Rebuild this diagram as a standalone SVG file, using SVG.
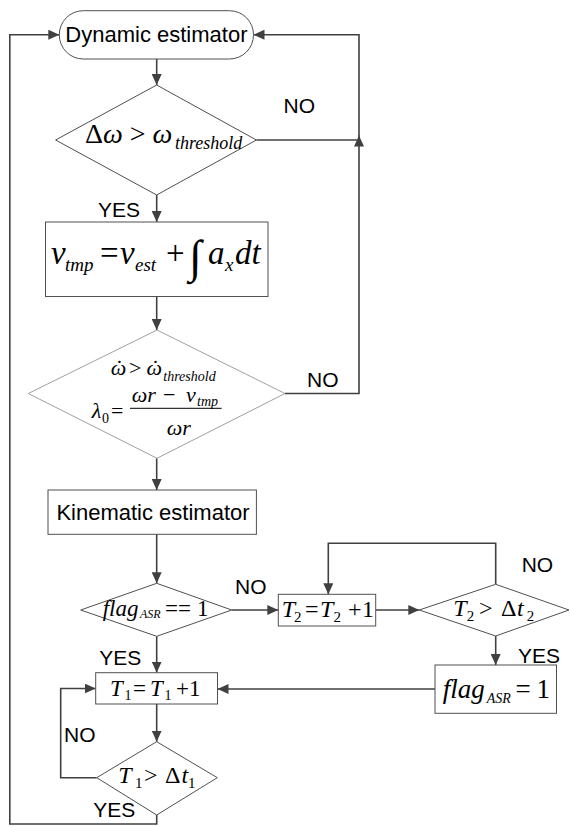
<svg xmlns="http://www.w3.org/2000/svg" width="570" height="826" viewBox="0 0 570 826">
<defs>
<marker id="arr" markerUnits="userSpaceOnUse" markerWidth="12" markerHeight="10" refX="11" refY="5" orient="auto">
<path d="M0,0 L11,5 L0,10 z" fill="#404040"/>
</marker>
</defs>
<style>
.box{fill:#fff;stroke:#505050;stroke-width:1}
.dia{fill:#fff;stroke:#505050;stroke-width:1}
.dial{fill:#fff;stroke:#a0a0a0;stroke-width:1}
.con{fill:none;stroke:#404040;stroke-width:1.6}
.lbl{font-family:"Liberation Sans",Arial,sans-serif;font-size:21px;fill:#000}
.nt{font-family:"Liberation Sans",Arial,sans-serif;font-size:22px;fill:#000;text-anchor:middle}
.m{font-family:"Liberation Serif","Times New Roman",serif;fill:#000}
.i{font-style:italic}
</style>
<rect width="570" height="826" fill="#fff"/>

<g id="connectors">
<path class="con" d="M156.7,59 V85" marker-end="url(#arr)"/>
<path class="con" d="M156.7,195 V222" marker-end="url(#arr)"/>
<path class="con" d="M156.7,296.5 V330" marker-end="url(#arr)"/>
<path class="con" d="M156.7,458.3 V490" marker-end="url(#arr)"/>
<path class="con" d="M156.7,534.3 V583.3" marker-end="url(#arr)"/>
<path class="con" d="M231.7,610 H278.3" marker-end="url(#arr)"/>
<path class="con" d="M375.7,610 H419.3" marker-end="url(#arr)"/>
<path class="con" d="M495.7,584.3 V543.3 H328.3 V594.3" marker-end="url(#arr)"/>
<path class="con" d="M495.7,636 V665" marker-end="url(#arr)"/>
<path class="con" d="M435,689 H217.5" marker-end="url(#arr)"/>
<path class="con" d="M156.7,636.3 V672.7" marker-end="url(#arr)"/>
<path class="con" d="M156.7,704 V741.7" marker-end="url(#arr)"/>
<path class="con" d="M96.7,777.7 H60.7 V688.5 H95.7" marker-end="url(#arr)"/>
<path class="con" d="M156.7,815 V824 H9.8 V34.7 H59.3" marker-end="url(#arr)"/>
<path class="con" d="M256.4,140 H359"/>
<path class="con" d="M285,393.5 H359 V135.5" marker-end="url(#arr)"/>
<path class="con" d="M359,136 V34.7 H253.5" marker-end="url(#arr)"/>
</g>

<g id="dynamic">
<rect class="box" x="59.3" y="10.7" width="194.2" height="48.3" rx="24" ry="24"/>
<text class="nt" x="156.4" y="42">Dynamic estimator</text>
</g>

<g id="cond1">
<polygon class="dia" points="156.7,85 256.4,140 156.7,195 55.6,140"/>
<text class="m" font-size="28"><tspan x="85" y="142.5">Δ</tspan><tspan class="i">ω</tspan> &gt; <tspan class="i">ω</tspan><tspan class="i" font-size="18" x="175" y="149">threshold</tspan></text>
</g>

<g id="vtmp">
<rect class="box" x="45.5" y="222" width="222.5" height="74.5"/>
<text class="m" font-size="33"><tspan class="i" x="51" y="263.5">v</tspan><tspan class="i" font-size="19" x="65" y="271">tmp</tspan><tspan x="100" y="263.5">=</tspan><tspan class="i" x="120" y="263.5">v</tspan><tspan class="i" font-size="19" x="135" y="271">est</tspan><tspan x="166" y="263.5">+</tspan><tspan font-size="46" x="189" y="272">∫</tspan><tspan class="i" x="208" y="263.5">a</tspan><tspan class="i" font-size="19" x="225" y="271">x</tspan><tspan class="i" x="235" y="263.5">dt</tspan></text>
</g>

<g id="cond2">
<polygon class="dial" points="157,330 285,393.5 157,458.3 28.3,393.5"/>
<text class="m" font-size="22"><tspan class="i" x="110.7" y="375">ω</tspan><tspan x="129" y="375">&gt;</tspan><tspan class="i" x="146.5" y="375">ω</tspan><tspan class="i" font-size="14" x="163.3" y="381">threshold</tspan></text>
<text class="m" font-size="22" text-anchor="middle"><tspan x="119.5" y="375">˙</tspan><tspan x="155.5" y="375">˙</tspan></text>
<text class="m" font-size="22"><tspan class="i" x="91.7" y="418.3">λ</tspan><tspan font-size="14" x="102" y="423">0</tspan><tspan x="111" y="418.3">=</tspan></text>
<line x1="130" y1="408.3" x2="221.7" y2="408.3" stroke="#000" stroke-width="1"/>
<text class="m" font-size="22"><tspan class="i" x="131.7" y="401.7">ωr</tspan><tspan x="163" y="401.7">−</tspan><tspan class="i" x="186" y="401.7">v</tspan><tspan class="i" font-size="14" x="197" y="406">tmp</tspan></text>
<text class="m i" font-size="22" x="166.7" y="435">ωr</text>
</g>

<g id="kinematic">
<rect class="box" x="48" y="490" width="208.4" height="44.3"/>
<text class="nt" x="153" y="520">Kinematic estimator</text>
</g>

<g id="cond-flag">
<polygon class="dia" points="156.7,583.3 231.7,610 156.7,636.3 80.7,610"/>
<text class="m" font-size="23"><tspan class="i" x="102.7" y="616">flag</tspan><tspan class="i" font-size="12" x="140" y="617.5">ASR</tspan><tspan x="165" y="616">==</tspan><tspan x="197" y="616">1</tspan></text>
</g>

<g id="t2inc">
<rect class="box" x="278.3" y="594.3" width="97.4" height="31.7"/>
<text class="m" font-size="24"><tspan class="i" x="281.7" y="617">T</tspan><tspan font-size="15" x="294" y="622">2</tspan><tspan x="305" y="617">=</tspan><tspan class="i" x="320" y="617">T</tspan><tspan font-size="15" x="333.5" y="622">2</tspan><tspan x="348" y="617">+</tspan><tspan x="362" y="617">1</tspan></text>
</g>

<g id="cond-t2">
<polygon class="dia" points="495.7,584.3 569,610 495.7,636 419.3,610"/>
<text class="m" font-size="24"><tspan class="i" x="453.3" y="616">T</tspan><tspan font-size="15" x="466.7" y="621">2</tspan><tspan x="479" y="616">&gt;</tspan><tspan x="501" y="616">Δ</tspan><tspan class="i" x="517" y="616">t</tspan><tspan font-size="15" x="526.7" y="621">2</tspan></text>
</g>

<g id="setflag">
<rect class="box" x="435" y="665" width="121.5" height="48.3"/>
<text class="m" font-size="27"><tspan class="i" x="442.7" y="698.3">flag</tspan><tspan class="i" font-size="14" x="486.7" y="703.3">ASR</tspan><tspan x="515.5" y="698.3">=</tspan><tspan x="536.5" y="698.3">1</tspan></text>
</g>

<g id="t1inc">
<rect class="box" x="95.7" y="672.7" width="121.8" height="31.3"/>
<text class="m" font-size="23"><tspan class="i" x="110" y="695.7">T</tspan><tspan font-size="14" x="124.5" y="700">1</tspan><tspan x="133" y="695.7">=</tspan><tspan class="i" x="150" y="695.7">T</tspan><tspan font-size="14" x="164.5" y="700">1</tspan><tspan x="176" y="695.7">+</tspan><tspan x="189" y="695.7">1</tspan></text>
</g>

<g id="cond-t1">
<polygon class="dia" points="156.7,741.7 217.3,777.7 156.7,815 96.7,777.7"/>
<text class="m" font-size="24"><tspan class="i" x="118.3" y="783.3">T</tspan><tspan font-size="15" x="135" y="788.3">1</tspan><tspan x="144" y="783.3">&gt;</tspan><tspan x="165" y="783.3">Δ</tspan><tspan class="i" x="181.5" y="783.3">t</tspan><tspan font-size="15" x="188" y="788.3">1</tspan></text>
</g>

<g id="labels">
<text class="lbl" x="283.6" y="113.3">NO</text>
<text class="lbl" x="98" y="216.7">YES</text>
<text class="lbl" x="307" y="386.7">NO</text>
<text class="lbl" x="235" y="594">NO</text>
<text class="lbl" x="521.7" y="571.7">NO</text>
<text class="lbl" x="99.3" y="665">YES</text>
<text class="lbl" x="518" y="663.3">YES</text>
<text class="lbl" x="64" y="741.7">NO</text>
<text class="lbl" x="93.3" y="816.7">YES</text>
</g>
</svg>
